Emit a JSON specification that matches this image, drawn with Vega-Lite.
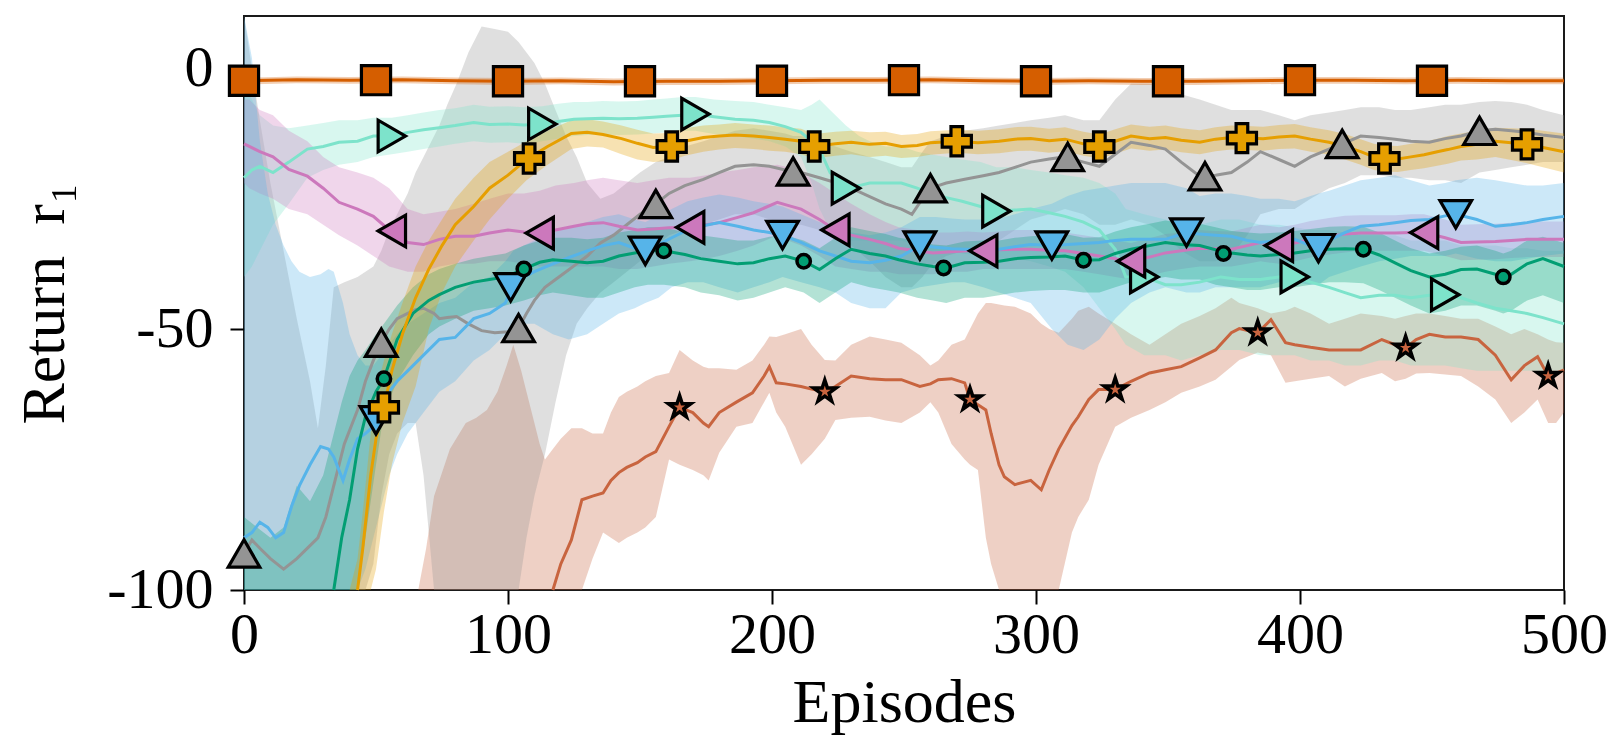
{
"$schema": "https://vega.github.io/schema/vega-lite/v6.json",
"width": 1320, "height": 574,
"autosize": {"type": "none"},
"padding": {"left": 244, "top": 16, "right": 51, "bottom": 162},
"config": {"view": {"stroke": "#1a1a1a", "strokeWidth": 2}},
"data": {"values": [
{"s":"1","ep":66,"v":null,"lo":-100,"hi":-100},{"s":"1","ep":69,"v":null,"lo":-100,"hi":-92},{"s":"1","ep":72,"v":null,"lo":-100,"hi":-82},{"s":"1","ep":74,"v":null,"lo":-100,"hi":-79},{"s":"1","ep":78,"v":null,"lo":-100,"hi":-73},{"s":"1","ep":84,"v":null,"lo":-100,"hi":-68},{"s":"1","ep":88,"v":null,"lo":-100,"hi":-67},{"s":"1","ep":92,"v":null,"lo":-100,"hi":-65.5},{"s":"1","ep":96,"v":null,"lo":-100,"hi":-62},{"s":"1","ep":99.5,"v":null,"lo":-100,"hi":-57},{"s":"1","ep":102,"v":null,"lo":-100,"hi":-53},{"s":"1","ep":105,"v":null,"lo":-100,"hi":-58},{"s":"1","ep":107,"v":null,"lo":-100,"hi":-62},{"s":"1","ep":110,"v":null,"lo":-100,"hi":-68},{"s":"1","ep":112,"v":null,"lo":-100,"hi":-72},{"s":"1","ep":114,"v":null,"lo":-100,"hi":-75},{"s":"1","ep":117,"v":-100,"lo":-100,"hi":-73},{"s":"1","ep":120,"v":-95,"lo":-100,"hi":-71},{"s":"1","ep":124,"v":-90.4,"lo":-100,"hi":-69},{"s":"1","ep":128,"v":-82.7,"lo":-100,"hi":-69},{"s":"1","ep":132,"v":-82,"lo":-94,"hi":-70},{"s":"1","ep":136,"v":-81.4,"lo":-89,"hi":-70},{"s":"1","ep":139,"v":-79,"lo":-90,"hi":-66},{"s":"1","ep":142,"v":-77.5,"lo":-91,"hi":-63},{"s":"1","ep":145,"v":-76.5,"lo":-90,"hi":-62},{"s":"1","ep":149,"v":-75.6,"lo":-89,"hi":-61},{"s":"1","ep":152,"v":-74.5,"lo":-88,"hi":-60},{"s":"1","ep":156,"v":-73.5,"lo":-86,"hi":-59},{"s":"1","ep":161,"v":-68.7,"lo":-75,"hi":-58.4},{"s":"1","ep":165,"v":-65,"lo":-76,"hi":-54},{"s":"1","ep":170,"v":-66,"lo":-77,"hi":-56},{"s":"1","ep":174,"v":-68,"lo":-78,"hi":-57.2},{"s":"1","ep":176,"v":-68.7,"lo":-79,"hi":-57.5},{"s":"1","ep":180,"v":-66,"lo":-73.7,"hi":-57.5},{"s":"1","ep":186.5,"v":-64,"lo":-68.7,"hi":-57.8},{"s":"1","ep":192.6,"v":-62.2,"lo":-68,"hi":-56},{"s":"1","ep":197,"v":-59,"lo":-64,"hi":-53},{"s":"1","ep":199,"v":-57.2,"lo":-62.2,"hi":-51.4},{"s":"1","ep":201.6,"v":-60.3,"lo":-66,"hi":-51.5},{"s":"1","ep":205,"v":-60.5,"lo":-68.7,"hi":-51},{"s":"1","ep":211,"v":-61,"lo":-76,"hi":-50},{"s":"1","ep":215,"v":-61.5,"lo":-74,"hi":-53},{"s":"1","ep":220,"v":-62,"lo":-71,"hi":-55.9},{"s":"1","ep":224,"v":-61,"lo":-67.4,"hi":-56},{"s":"1","ep":230,"v":-59,"lo":-67,"hi":-53},{"s":"1","ep":237,"v":-59.5,"lo":-66.8,"hi":-51.4},{"s":"1","ep":243,"v":-59.7,"lo":-67.5,"hi":-52},{"s":"1","ep":249,"v":-59.7,"lo":-68,"hi":-52.6},{"s":"1","ep":256,"v":-61,"lo":-66,"hi":-55},{"s":"1","ep":260,"v":-60.5,"lo":-64,"hi":-57},{"s":"1","ep":263,"v":-59.7,"lo":-66,"hi":-56},{"s":"1","ep":268,"v":-59.5,"lo":-72,"hi":-53},{"s":"1","ep":273,"v":-60.3,"lo":-75,"hi":-52},{"s":"1","ep":275,"v":-63.5,"lo":-76,"hi":-50},{"s":"1","ep":278,"v":-64.5,"lo":-77,"hi":-47},{"s":"1","ep":281,"v":-65.5,"lo":-90,"hi":-45},{"s":"1","ep":283,"v":-70,"lo":-95,"hi":-45},{"s":"1","ep":286,"v":-76,"lo":-100,"hi":-45.3},{"s":"1","ep":288,"v":-78.3,"lo":-100,"hi":-45.5},{"s":"1","ep":292,"v":-79.8,"lo":-100,"hi":-45.7},{"s":"1","ep":298,"v":-79,"lo":-100,"hi":-47},{"s":"1","ep":302,"v":-80.8,"lo":-100,"hi":-49},{"s":"1","ep":305,"v":-77,"lo":-100,"hi":-50},{"s":"1","ep":308.6,"v":-73,"lo":-100,"hi":-50.7},{"s":"1","ep":313.6,"v":-68.5,"lo":-89,"hi":-48},{"s":"1","ep":316,"v":-66.8,"lo":-86,"hi":-46.5},{"s":"1","ep":320,"v":-63.5,"lo":-82.7,"hi":-45.7},{"s":"1","ep":323.7,"v":-61.6,"lo":-76,"hi":-47},{"s":"1","ep":330,"v":-61.6,"lo":-68.7,"hi":-49},{"s":"1","ep":336,"v":-60,"lo":-67,"hi":-51},{"s":"1","ep":343,"v":-58.4,"lo":-65.5,"hi":-53},{"s":"1","ep":349,"v":-57.8,"lo":-64,"hi":-51},{"s":"1","ep":355,"v":-57.2,"lo":-62.2,"hi":-49},{"s":"1","ep":362,"v":-55.5,"lo":-61,"hi":-47.5},{"s":"1","ep":368,"v":-54,"lo":-59.7,"hi":-46},{"s":"1","ep":374,"v":-50.7,"lo":-57.2,"hi":-44},{"s":"1","ep":377,"v":-49.9,"lo":-55.9,"hi":-45},{"s":"1","ep":384,"v":-50.7,"lo":-54.5,"hi":-46},{"s":"1","ep":389,"v":-48.2,"lo":-55,"hi":-47},{"s":"1","ep":394.5,"v":-52.6,"lo":-60.3,"hi":-46.5},{"s":"1","ep":398,"v":-53,"lo":-60,"hi":-45.7},{"s":"1","ep":404,"v":-53.5,"lo":-59.5,"hi":-47},{"s":"1","ep":411,"v":-54,"lo":-59,"hi":-49},{"s":"1","ep":417,"v":-54,"lo":-61,"hi":-48},{"s":"1","ep":423,"v":-54,"lo":-59.5,"hi":-47},{"s":"1","ep":431,"v":-52,"lo":-58.4,"hi":-47.5},{"s":"1","ep":436,"v":-53,"lo":-60,"hi":-48},{"s":"1","ep":440,"v":-53.6,"lo":-59.5,"hi":-47.5},{"s":"1","ep":444,"v":-52,"lo":-58.5,"hi":-47},{"s":"1","ep":449,"v":-51,"lo":-58.4,"hi":-47},{"s":"1","ep":455,"v":-51.5,"lo":-58.7,"hi":-47.5},{"s":"1","ep":461,"v":-51.5,"lo":-59,"hi":-48},{"s":"1","ep":467.5,"v":-52,"lo":-61,"hi":-48},{"s":"1","ep":474,"v":-55,"lo":-63.5,"hi":-49.5},{"s":"1","ep":480,"v":-59.7,"lo":-68,"hi":-51},{"s":"1","ep":485,"v":-57,"lo":-66,"hi":-50},{"s":"1","ep":490,"v":-55.3,"lo":-63.5,"hi":-51},{"s":"1","ep":494,"v":-59,"lo":-68,"hi":-52},{"s":"1","ep":497,"v":-58.5,"lo":-68,"hi":-52.5},{"s":"1","ep":500,"v":-57.8,"lo":-66,"hi":-52.6},
{"s":"2","ep":0,"v":-93,"lo":-100,"hi":10},{"s":"2","ep":3,"v":-90.4,"lo":-100,"hi":0},{"s":"2","ep":6,"v":-92,"lo":-100,"hi":-10},{"s":"2","ep":10,"v":-94,"lo":-100,"hi":-22},{"s":"2","ep":15,"v":-96,"lo":-100,"hi":-35},{"s":"2","ep":20,"v":-94,"lo":-100,"hi":-48},{"s":"2","ep":25,"v":-91.5,"lo":-100,"hi":-60},{"s":"2","ep":28,"v":-90,"lo":-100,"hi":-69},{"s":"2","ep":31,"v":-86,"lo":-100,"hi":-57},{"s":"2","ep":34,"v":-80,"lo":-100,"hi":-42},{"s":"2","ep":38,"v":-72,"lo":-100,"hi":-41},{"s":"2","ep":43,"v":-65.5,"lo":-100,"hi":-40},{"s":"2","ep":46,"v":-60,"lo":-100,"hi":-39},{"s":"2","ep":49,"v":-56,"lo":-95,"hi":-38},{"s":"2","ep":52,"v":-52.6,"lo":-82,"hi":-35},{"s":"2","ep":55,"v":-50,"lo":-74,"hi":-31},{"s":"2","ep":58,"v":-48,"lo":-70,"hi":-28},{"s":"2","ep":62,"v":-47,"lo":-68,"hi":-24},{"s":"2","ep":65,"v":-46.3,"lo":-68,"hi":-20},{"s":"2","ep":68,"v":-46,"lo":-78,"hi":-17},{"s":"2","ep":72,"v":-47,"lo":-100,"hi":-13},{"s":"2","ep":74,"v":-48,"lo":-100,"hi":-11},{"s":"2","ep":77,"v":-47.8,"lo":-100,"hi":-7},{"s":"2","ep":80.5,"v":-47.6,"lo":-100,"hi":-3},{"s":"2","ep":85,"v":-49,"lo":-100,"hi":3},{"s":"2","ep":90,"v":-50.3,"lo":-100,"hi":8},{"s":"2","ep":95,"v":-50.7,"lo":-100,"hi":7.5},{"s":"2","ep":100,"v":-50.5,"lo":-100,"hi":7},{"s":"2","ep":104,"v":-49.8,"lo":-100,"hi":5},{"s":"2","ep":107,"v":-47,"lo":-90,"hi":3},{"s":"2","ep":110,"v":-44.5,"lo":-82,"hi":1},{"s":"2","ep":114,"v":-42,"lo":-74,"hi":-3},{"s":"2","ep":118,"v":-40.5,"lo":-64,"hi":-8},{"s":"2","ep":122,"v":-39,"lo":-55,"hi":-13},{"s":"2","ep":126,"v":-37.5,"lo":-49,"hi":-17},{"s":"2","ep":130,"v":-36,"lo":-46,"hi":-22},{"s":"2","ep":135,"v":-33.5,"lo":-43,"hi":-25},{"s":"2","ep":140,"v":-32,"lo":-41,"hi":-24},{"s":"2","ep":145,"v":-30,"lo":-39,"hi":-22},{"s":"2","ep":150,"v":-28,"lo":-37,"hi":-20},{"s":"2","ep":156,"v":-26,"lo":-34,"hi":-18},{"s":"2","ep":161,"v":-24,"lo":-32,"hi":-17},{"s":"2","ep":167,"v":-22.5,"lo":-31,"hi":-15},{"s":"2","ep":174,"v":-21.3,"lo":-30,"hi":-14},{"s":"2","ep":180,"v":-20,"lo":-29,"hi":-13},{"s":"2","ep":186,"v":-18.8,"lo":-28,"hi":-12},{"s":"2","ep":193,"v":-18.5,"lo":-28,"hi":-11.5},{"s":"2","ep":199,"v":-18.8,"lo":-29,"hi":-12},{"s":"2","ep":205,"v":-19.5,"lo":-29.5,"hi":-12.5},{"s":"2","ep":208,"v":-19.8,"lo":-30,"hi":-13},{"s":"2","ep":211,"v":-20,"lo":-30,"hi":-13},{"s":"2","ep":218,"v":-21,"lo":-31,"hi":-14},{"s":"2","ep":224,"v":-21.9,"lo":-32,"hi":-15},{"s":"2","ep":230,"v":-23,"lo":-34,"hi":-16},{"s":"2","ep":237,"v":-24.6,"lo":-37,"hi":-17},{"s":"2","ep":243,"v":-26,"lo":-40,"hi":-18},{"s":"2","ep":249,"v":-27,"lo":-42,"hi":-19},{"s":"2","ep":253,"v":-28,"lo":-42,"hi":-19},{"s":"2","ep":257,"v":-25,"lo":-40,"hi":-16},{"s":"2","ep":260,"v":-23,"lo":-38,"hi":-14},{"s":"2","ep":266,"v":-22,"lo":-36,"hi":-13},{"s":"2","ep":273,"v":-21.3,"lo":-35,"hi":-12},{"s":"2","ep":280,"v":-20.6,"lo":-34,"hi":-11.5},{"s":"2","ep":286,"v":-20,"lo":-33,"hi":-11},{"s":"2","ep":292,"v":-19,"lo":-31,"hi":-10.5},{"s":"2","ep":298,"v":-18,"lo":-29,"hi":-10},{"s":"2","ep":305,"v":-17.4,"lo":-28,"hi":-9.5},{"s":"2","ep":311,"v":-17,"lo":-27,"hi":-9},{"s":"2","ep":318,"v":-18,"lo":-28,"hi":-10},{"s":"2","ep":324,"v":-18.8,"lo":-30,"hi":-10},{"s":"2","ep":330,"v":-16.5,"lo":-30,"hi":-6},{"s":"2","ep":336,"v":-14.2,"lo":-29,"hi":-3},{"s":"2","ep":343,"v":-14.8,"lo":-30,"hi":-3},{"s":"2","ep":349,"v":-15.5,"lo":-32,"hi":-4},{"s":"2","ep":355,"v":-18,"lo":-35,"hi":-5},{"s":"2","ep":362,"v":-20.7,"lo":-37,"hi":-6},{"s":"2","ep":368,"v":-20.5,"lo":-37,"hi":-7},{"s":"2","ep":374,"v":-20,"lo":-36,"hi":-8},{"s":"2","ep":380,"v":-18,"lo":-32,"hi":-8},{"s":"2","ep":385,"v":-16,"lo":-28,"hi":-8},{"s":"2","ep":392,"v":-17.5,"lo":-27,"hi":-9},{"s":"2","ep":398,"v":-18.8,"lo":-27,"hi":-10},{"s":"2","ep":404,"v":-17,"lo":-25,"hi":-9},{"s":"2","ep":411,"v":-15.5,"lo":-23,"hi":-8.5},{"s":"2","ep":417,"v":-14.3,"lo":-22,"hi":-8},{"s":"2","ep":423,"v":-13,"lo":-20.5,"hi":-7.5},{"s":"2","ep":430,"v":-13.3,"lo":-20.5,"hi":-7.5},{"s":"2","ep":436,"v":-13.6,"lo":-21,"hi":-8},{"s":"2","ep":442,"v":-14,"lo":-21,"hi":-8},{"s":"2","ep":449,"v":-14.2,"lo":-21.5,"hi":-7.5},{"s":"2","ep":455,"v":-13.5,"lo":-21.5,"hi":-7},{"s":"2","ep":461,"v":-13,"lo":-22,"hi":-7},{"s":"2","ep":468,"v":-12,"lo":-20,"hi":-6.5},{"s":"2","ep":474,"v":-11.7,"lo":-19.5,"hi":-6.3},{"s":"2","ep":480,"v":-12,"lo":-19,"hi":-6.5},{"s":"2","ep":486,"v":-12.3,"lo":-18.5,"hi":-7},{"s":"2","ep":492,"v":-12.8,"lo":-18,"hi":-8},{"s":"2","ep":500,"v":-13.3,"lo":-18,"hi":-9},
{"s":"3","ep":0,"v":-21,"lo":-40,"hi":-3},{"s":"3","ep":3,"v":-19.5,"lo":-38,"hi":-6},{"s":"3","ep":6,"v":-18.8,"lo":-35,"hi":-9},{"s":"3","ep":11,"v":-20,"lo":-30,"hi":-11},{"s":"3","ep":17,"v":-18,"lo":-26,"hi":-11.5},{"s":"3","ep":24,"v":-15.5,"lo":-21,"hi":-11},{"s":"3","ep":30,"v":-15,"lo":-19.5,"hi":-10.5},{"s":"3","ep":36,"v":-14.2,"lo":-18.5,"hi":-10},{"s":"3","ep":43,"v":-14,"lo":-18,"hi":-10},{"s":"3","ep":49,"v":-13,"lo":-17,"hi":-9.5},{"s":"3","ep":56,"v":-13,"lo":-16.5,"hi":-9.5},{"s":"3","ep":62,"v":-12.3,"lo":-16,"hi":-9},{"s":"3","ep":68,"v":-11.8,"lo":-15.5,"hi":-8.5},{"s":"3","ep":74,"v":-11.4,"lo":-15,"hi":-8},{"s":"3","ep":80,"v":-11,"lo":-14.5,"hi":-7.7},{"s":"3","ep":87,"v":-10.4,"lo":-14,"hi":-7},{"s":"3","ep":93,"v":-10.8,"lo":-14.3,"hi":-7.4},{"s":"3","ep":100,"v":-10.7,"lo":-14.2,"hi":-7.3},{"s":"3","ep":106,"v":-10.9,"lo":-14.5,"hi":-7.5},{"s":"3","ep":113,"v":-10.7,"lo":-14,"hi":-7.3},{"s":"3","ep":119,"v":-10.2,"lo":-13.5,"hi":-6.8},{"s":"3","ep":125,"v":-9.8,"lo":-13,"hi":-6.5},{"s":"3","ep":130,"v":-9.7,"lo":-12.8,"hi":-6.5},{"s":"3","ep":136,"v":-9.6,"lo":-12.7,"hi":-6.3},{"s":"3","ep":142,"v":-9.7,"lo":-12.8,"hi":-6.4},{"s":"3","ep":149,"v":-9.6,"lo":-12.7,"hi":-6.3},{"s":"3","ep":155,"v":-9.4,"lo":-12.5,"hi":-6},{"s":"3","ep":160,"v":-9.2,"lo":-12.3,"hi":-5.8},{"s":"3","ep":166,"v":-9,"lo":-12,"hi":-5.5},{"s":"3","ep":171,"v":-8.8,"lo":-12,"hi":-5.5},{"s":"3","ep":178,"v":-9.3,"lo":-12.6,"hi":-6},{"s":"3","ep":186,"v":-9.8,"lo":-13,"hi":-6.3},{"s":"3","ep":193,"v":-10,"lo":-13.5,"hi":-6.5},{"s":"3","ep":199,"v":-10.4,"lo":-14,"hi":-7},{"s":"3","ep":205,"v":-11.2,"lo":-15,"hi":-7.5},{"s":"3","ep":211,"v":-12.3,"lo":-17,"hi":-8},{"s":"3","ep":215,"v":-14,"lo":-22,"hi":-7},{"s":"3","ep":218,"v":-15.5,"lo":-27,"hi":-6},{"s":"3","ep":222,"v":-20,"lo":-31,"hi":-8},{"s":"3","ep":228,"v":-23,"lo":-33,"hi":-11},{"s":"3","ep":233,"v":-22.5,"lo":-33,"hi":-13},{"s":"3","ep":237,"v":-22,"lo":-33,"hi":-14},{"s":"3","ep":243,"v":-22,"lo":-33,"hi":-15},{"s":"3","ep":249,"v":-22,"lo":-33,"hi":-15},{"s":"3","ep":255,"v":-23,"lo":-34,"hi":-16},{"s":"3","ep":260,"v":-24,"lo":-35,"hi":-16.5},{"s":"3","ep":266,"v":-24.8,"lo":-35,"hi":-17},{"s":"3","ep":272,"v":-25.5,"lo":-35.5,"hi":-17.5},{"s":"3","ep":279,"v":-26.5,"lo":-36,"hi":-18},{"s":"3","ep":285,"v":-27.4,"lo":-36.5,"hi":-19},{"s":"3","ep":292,"v":-27.2,"lo":-36.5,"hi":-19},{"s":"3","ep":298,"v":-27,"lo":-37,"hi":-19.5},{"s":"3","ep":305,"v":-27.7,"lo":-38,"hi":-20},{"s":"3","ep":311,"v":-28.4,"lo":-39,"hi":-20.5},{"s":"3","ep":318,"v":-29.5,"lo":-42,"hi":-21},{"s":"3","ep":324,"v":-31,"lo":-46,"hi":-22},{"s":"3","ep":330,"v":-34.7,"lo":-50,"hi":-24},{"s":"3","ep":334,"v":-40,"lo":-53,"hi":-27},{"s":"3","ep":341,"v":-40,"lo":-55,"hi":-28},{"s":"3","ep":349,"v":-41.5,"lo":-55,"hi":-29},{"s":"3","ep":355,"v":-41.5,"lo":-56,"hi":-30},{"s":"3","ep":362,"v":-41,"lo":-55,"hi":-30},{"s":"3","ep":370,"v":-40,"lo":-54,"hi":-29},{"s":"3","ep":377,"v":-40.5,"lo":-54,"hi":-29},{"s":"3","ep":385,"v":-40.5,"lo":-55,"hi":-30},{"s":"3","ep":392,"v":-40,"lo":-55,"hi":-30},{"s":"3","ep":398,"v":-40,"lo":-55,"hi":-30.5},{"s":"3","ep":404,"v":-41,"lo":-56,"hi":-31},{"s":"3","ep":411,"v":-42,"lo":-56,"hi":-31},{"s":"3","ep":417,"v":-43,"lo":-57,"hi":-31.5},{"s":"3","ep":423,"v":-44,"lo":-57,"hi":-32},{"s":"3","ep":430,"v":-43.5,"lo":-56,"hi":-32},{"s":"3","ep":436,"v":-43.5,"lo":-56,"hi":-32},{"s":"3","ep":442,"v":-44,"lo":-57,"hi":-33},{"s":"3","ep":449,"v":-43.5,"lo":-57,"hi":-33},{"s":"3","ep":455,"v":-43.4,"lo":-57,"hi":-33},{"s":"3","ep":461,"v":-44,"lo":-57.5,"hi":-34},{"s":"3","ep":467,"v":-45,"lo":-58,"hi":-34},{"s":"3","ep":474,"v":-46,"lo":-58,"hi":-34},{"s":"3","ep":480,"v":-46.5,"lo":-58,"hi":-34.5},{"s":"3","ep":486,"v":-47,"lo":-58,"hi":-34.5},{"s":"3","ep":492,"v":-47.8,"lo":-58,"hi":-35},{"s":"3","ep":500,"v":-49,"lo":-58,"hi":-35},
{"s":"4","ep":0,"v":-14.5,"lo":-22,"hi":-6},{"s":"4","ep":2,"v":-15,"lo":-23,"hi":-6},{"s":"4","ep":6,"v":-16,"lo":-24,"hi":-8},{"s":"4","ep":11,"v":-17,"lo":-25,"hi":-9},{"s":"4","ep":17,"v":-19.4,"lo":-27,"hi":-12},{"s":"4","ep":24,"v":-20.7,"lo":-28,"hi":-14},{"s":"4","ep":30,"v":-23,"lo":-30,"hi":-17},{"s":"4","ep":36,"v":-25.7,"lo":-32,"hi":-19},{"s":"4","ep":43,"v":-27,"lo":-34,"hi":-20},{"s":"4","ep":49,"v":-28.4,"lo":-36,"hi":-21},{"s":"4","ep":55,"v":-31,"lo":-38,"hi":-23},{"s":"4","ep":62,"v":-33.4,"lo":-39,"hi":-27},{"s":"4","ep":68,"v":-33.8,"lo":-39,"hi":-28},{"s":"4","ep":74,"v":-32.8,"lo":-38,"hi":-27.5},{"s":"4","ep":80,"v":-32.2,"lo":-37.5,"hi":-27},{"s":"4","ep":87,"v":-32.2,"lo":-37.5,"hi":-26},{"s":"4","ep":93,"v":-31.6,"lo":-37,"hi":-25},{"s":"4","ep":100,"v":-31,"lo":-37,"hi":-24},{"s":"4","ep":106,"v":-31.4,"lo":-37.5,"hi":-24},{"s":"4","ep":112,"v":-31.6,"lo":-38,"hi":-23.5},{"s":"4","ep":118,"v":-31,"lo":-38,"hi":-22.5},{"s":"4","ep":125,"v":-30.3,"lo":-38,"hi":-22},{"s":"4","ep":130,"v":-29.8,"lo":-38,"hi":-21.5},{"s":"4","ep":136,"v":-29.6,"lo":-38,"hi":-21},{"s":"4","ep":142,"v":-30.3,"lo":-38.5,"hi":-21.5},{"s":"4","ep":149,"v":-31,"lo":-38.5,"hi":-22},{"s":"4","ep":155,"v":-30.8,"lo":-38,"hi":-21.5},{"s":"4","ep":161,"v":-30.6,"lo":-37.5,"hi":-21},{"s":"4","ep":169,"v":-30.5,"lo":-37,"hi":-21},{"s":"4","ep":175,"v":-30,"lo":-36.5,"hi":-20.5},{"s":"4","ep":180,"v":-29.6,"lo":-36,"hi":-20},{"s":"4","ep":187,"v":-28.6,"lo":-35,"hi":-19.5},{"s":"4","ep":193,"v":-27.7,"lo":-34,"hi":-19},{"s":"4","ep":202,"v":-25.7,"lo":-32,"hi":-18.5},{"s":"4","ep":206,"v":-26.3,"lo":-33,"hi":-19},{"s":"4","ep":211,"v":-27,"lo":-34,"hi":-20},{"s":"4","ep":218,"v":-29,"lo":-36,"hi":-22},{"s":"4","ep":224,"v":-31,"lo":-38,"hi":-24},{"s":"4","ep":230,"v":-32,"lo":-38.5,"hi":-26},{"s":"4","ep":237,"v":-32.8,"lo":-39,"hi":-28},{"s":"4","ep":243,"v":-33.6,"lo":-39,"hi":-29.5},{"s":"4","ep":248,"v":-34.5,"lo":-39.5,"hi":-30.5},{"s":"4","ep":255,"v":-35,"lo":-39.5,"hi":-31},{"s":"4","ep":261,"v":-35.4,"lo":-39.5,"hi":-31.5},{"s":"4","ep":268,"v":-35.2,"lo":-39,"hi":-31.5},{"s":"4","ep":274,"v":-35,"lo":-39,"hi":-31.3},{"s":"4","ep":280,"v":-35,"lo":-38.5,"hi":-31.5},{"s":"4","ep":286,"v":-34.8,"lo":-38.5,"hi":-31.3},{"s":"4","ep":292,"v":-34.7,"lo":-38.5,"hi":-31},{"s":"4","ep":298,"v":-34.7,"lo":-38.5,"hi":-31},{"s":"4","ep":305,"v":-34.9,"lo":-38.5,"hi":-31.3},{"s":"4","ep":311,"v":-35,"lo":-38.5,"hi":-31.5},{"s":"4","ep":318,"v":-35.5,"lo":-39,"hi":-32},{"s":"4","ep":324,"v":-36,"lo":-39.5,"hi":-32.5},{"s":"4","ep":330,"v":-36.5,"lo":-40,"hi":-33},{"s":"4","ep":336,"v":-37,"lo":-40.5,"hi":-33.5},{"s":"4","ep":343,"v":-36.2,"lo":-39.8,"hi":-32.6},{"s":"4","ep":349,"v":-35.4,"lo":-39,"hi":-31.8},{"s":"4","ep":355,"v":-35,"lo":-38.5,"hi":-31.5},{"s":"4","ep":362,"v":-34.5,"lo":-38,"hi":-31},{"s":"4","ep":368,"v":-34.6,"lo":-38,"hi":-31.2},{"s":"4","ep":374,"v":-34.7,"lo":-38,"hi":-31.3},{"s":"4","ep":380,"v":-34,"lo":-37.5,"hi":-30.6},{"s":"4","ep":385,"v":-33.4,"lo":-37,"hi":-30},{"s":"4","ep":392,"v":-34,"lo":-37.5,"hi":-30.5},{"s":"4","ep":398,"v":-33.5,"lo":-37,"hi":-30},{"s":"4","ep":404,"v":-32.8,"lo":-36.3,"hi":-29.3},{"s":"4","ep":411,"v":-32.2,"lo":-35.7,"hi":-28.7},{"s":"4","ep":417,"v":-31.8,"lo":-35.3,"hi":-28.3},{"s":"4","ep":423,"v":-31.6,"lo":-35,"hi":-28.2},{"s":"4","ep":430,"v":-31.6,"lo":-35,"hi":-28.2},{"s":"4","ep":436,"v":-31.6,"lo":-35,"hi":-28.2},{"s":"4","ep":442,"v":-31.5,"lo":-35,"hi":-28},{"s":"4","ep":447,"v":-31.5,"lo":-35,"hi":-28},{"s":"4","ep":455,"v":-32.5,"lo":-36,"hi":-29},{"s":"4","ep":461,"v":-33.4,"lo":-36.8,"hi":-30},{"s":"4","ep":467,"v":-33.3,"lo":-36.7,"hi":-29.9},{"s":"4","ep":474,"v":-33.2,"lo":-36.6,"hi":-29.8},{"s":"4","ep":480,"v":-33,"lo":-36.4,"hi":-29.6},{"s":"4","ep":486,"v":-32.8,"lo":-36.2,"hi":-29.4},{"s":"4","ep":492,"v":-32.8,"lo":-36.2,"hi":-29.4},{"s":"4","ep":500,"v":-32.8,"lo":-36.2,"hi":-29.4},
{"s":"5","ep":0,"v":-90,"lo":-100,"hi":10},{"s":"5","ep":3,"v":-89,"lo":-100,"hi":2},{"s":"5","ep":6,"v":-87,"lo":-100,"hi":-14},{"s":"5","ep":9,"v":-88,"lo":-100,"hi":-24},{"s":"5","ep":12,"v":-90,"lo":-100,"hi":-30},{"s":"5","ep":15,"v":-89,"lo":-100,"hi":-34},{"s":"5","ep":18,"v":-84,"lo":-100,"hi":-37},{"s":"5","ep":21,"v":-80,"lo":-100,"hi":-39},{"s":"5","ep":25,"v":-76,"lo":-100,"hi":-40},{"s":"5","ep":29,"v":-72.5,"lo":-100,"hi":-39.5},{"s":"5","ep":32,"v":-73,"lo":-100,"hi":-38.5},{"s":"5","ep":34,"v":-74.5,"lo":-100,"hi":-39},{"s":"5","ep":37.5,"v":-79,"lo":-100,"hi":-45},{"s":"5","ep":40,"v":-75,"lo":-100,"hi":-51},{"s":"5","ep":43,"v":-71,"lo":-100,"hi":-55},{"s":"5","ep":46,"v":-70,"lo":-96,"hi":-57},{"s":"5","ep":49,"v":-68.7,"lo":-90,"hi":-57},{"s":"5","ep":52,"v":-65,"lo":-84,"hi":-55},{"s":"5","ep":55,"v":-62,"lo":-78,"hi":-53},{"s":"5","ep":58,"v":-60,"lo":-74,"hi":-51},{"s":"5","ep":62,"v":-58,"lo":-70,"hi":-49},{"s":"5","ep":68,"v":-55,"lo":-66,"hi":-47},{"s":"5","ep":74,"v":-52,"lo":-62,"hi":-45},{"s":"5","ep":80,"v":-51.6,"lo":-60,"hi":-44},{"s":"5","ep":87,"v":-48,"lo":-56,"hi":-41},{"s":"5","ep":93,"v":-47,"lo":-54,"hi":-40},{"s":"5","ep":99,"v":-45,"lo":-51,"hi":-37},{"s":"5","ep":102,"v":-41.5,"lo":-50,"hi":-35},{"s":"5","ep":106,"v":-40,"lo":-49,"hi":-34},{"s":"5","ep":110,"v":-39,"lo":-49,"hi":-33},{"s":"5","ep":117,"v":-37.5,"lo":-51,"hi":-31.5},{"s":"5","ep":123,"v":-36.3,"lo":-52,"hi":-30.5},{"s":"5","ep":130,"v":-35,"lo":-51,"hi":-29.5},{"s":"5","ep":136,"v":-34,"lo":-49,"hi":-28.5},{"s":"5","ep":142,"v":-33.4,"lo":-47,"hi":-28},{"s":"5","ep":148,"v":-34.5,"lo":-46,"hi":-29},{"s":"5","ep":152,"v":-35,"lo":-45,"hi":-29.5},{"s":"5","ep":157,"v":-33.8,"lo":-44,"hi":-28.3},{"s":"5","ep":162,"v":-32.5,"lo":-42,"hi":-27},{"s":"5","ep":168,"v":-31,"lo":-41,"hi":-25.5},{"s":"5","ep":174,"v":-30.2,"lo":-41,"hi":-24.8},{"s":"5","ep":180,"v":-29.6,"lo":-42,"hi":-24.2},{"s":"5","ep":187,"v":-30.3,"lo":-43,"hi":-24.8},{"s":"5","ep":193,"v":-31,"lo":-42,"hi":-25.5},{"s":"5","ep":199,"v":-31.5,"lo":-41,"hi":-26},{"s":"5","ep":204,"v":-32,"lo":-40,"hi":-26.5},{"s":"5","ep":211,"v":-33.4,"lo":-41,"hi":-28},{"s":"5","ep":218,"v":-35,"lo":-42,"hi":-29.5},{"s":"5","ep":224,"v":-36,"lo":-43,"hi":-30.5},{"s":"5","ep":230,"v":-37,"lo":-45,"hi":-31.5},{"s":"5","ep":237,"v":-37.3,"lo":-46,"hi":-32},{"s":"5","ep":243,"v":-36.8,"lo":-46,"hi":-31.5},{"s":"5","ep":249,"v":-36,"lo":-43,"hi":-30.5},{"s":"5","ep":256,"v":-34,"lo":-42,"hi":-28.5},{"s":"5","ep":262,"v":-34.3,"lo":-41.5,"hi":-28.5},{"s":"5","ep":268,"v":-34.6,"lo":-41,"hi":-28.8},{"s":"5","ep":273,"v":-34.7,"lo":-41,"hi":-29},{"s":"5","ep":280,"v":-34.8,"lo":-42,"hi":-29},{"s":"5","ep":286,"v":-34.7,"lo":-43,"hi":-28.8},{"s":"5","ep":292,"v":-34.2,"lo":-44,"hi":-28},{"s":"5","ep":298,"v":-33.8,"lo":-45,"hi":-27},{"s":"5","ep":306,"v":-34,"lo":-50,"hi":-26},{"s":"5","ep":312,"v":-33.8,"lo":-53,"hi":-24.5},{"s":"5","ep":318,"v":-33.6,"lo":-54,"hi":-23.5},{"s":"5","ep":324,"v":-33.4,"lo":-52,"hi":-23},{"s":"5","ep":330,"v":-33,"lo":-48,"hi":-22.5},{"s":"5","ep":336,"v":-32.8,"lo":-45,"hi":-22},{"s":"5","ep":343,"v":-32.8,"lo":-43,"hi":-22},{"s":"5","ep":349,"v":-32.8,"lo":-42,"hi":-22},{"s":"5","ep":357,"v":-31.5,"lo":-43,"hi":-23},{"s":"5","ep":362,"v":-31.8,"lo":-43,"hi":-24.5},{"s":"5","ep":368,"v":-32,"lo":-42,"hi":-24},{"s":"5","ep":374,"v":-32.2,"lo":-42,"hi":-24},{"s":"5","ep":380,"v":-33,"lo":-42,"hi":-24.5},{"s":"5","ep":385,"v":-33.4,"lo":-42,"hi":-25},{"s":"5","ep":392,"v":-33,"lo":-41,"hi":-25},{"s":"5","ep":398,"v":-32.8,"lo":-41,"hi":-25.5},{"s":"5","ep":404,"v":-34,"lo":-41.5,"hi":-24.5},{"s":"5","ep":407,"v":-34.5,"lo":-41.5,"hi":-24},{"s":"5","ep":411,"v":-33,"lo":-40,"hi":-23.5},{"s":"5","ep":417,"v":-31.5,"lo":-39,"hi":-22.5},{"s":"5","ep":423,"v":-30.3,"lo":-38,"hi":-21.5},{"s":"5","ep":430,"v":-30,"lo":-37,"hi":-21},{"s":"5","ep":436,"v":-29.6,"lo":-36.5,"hi":-20.5},{"s":"5","ep":442,"v":-29.2,"lo":-36,"hi":-21.5},{"s":"5","ep":449,"v":-29,"lo":-36,"hi":-22.5},{"s":"5","ep":455,"v":-28.3,"lo":-36,"hi":-22},{"s":"5","ep":459,"v":-28,"lo":-35.5,"hi":-21.5},{"s":"5","ep":467,"v":-29,"lo":-36.5,"hi":-21},{"s":"5","ep":474,"v":-30.3,"lo":-37,"hi":-21.5},{"s":"5","ep":480,"v":-30,"lo":-37,"hi":-22},{"s":"5","ep":486,"v":-29.6,"lo":-36.5,"hi":-22.5},{"s":"5","ep":492,"v":-29,"lo":-36,"hi":-22.5},{"s":"5","ep":500,"v":-28.4,"lo":-35.5,"hi":-22},
{"s":"6","ep":0,"v":null,"lo":-100,"hi":-86},{"s":"6","ep":5,"v":null,"lo":-100,"hi":-88},{"s":"6","ep":10,"v":null,"lo":-100,"hi":-90},{"s":"6","ep":15,"v":null,"lo":-100,"hi":-88},{"s":"6","ep":20,"v":null,"lo":-100,"hi":-80},{"s":"6","ep":25,"v":null,"lo":-100,"hi":-83},{"s":"6","ep":30,"v":null,"lo":-100,"hi":-78},{"s":"6","ep":34,"v":-100,"lo":-100,"hi":-70},{"s":"6","ep":37,"v":-90,"lo":-100,"hi":-64},{"s":"6","ep":40,"v":-82.7,"lo":-100,"hi":-59},{"s":"6","ep":43,"v":-73,"lo":-100,"hi":-56},{"s":"6","ep":46,"v":-66.8,"lo":-90,"hi":-54},{"s":"6","ep":50,"v":-62,"lo":-76,"hi":-51},{"s":"6","ep":53,"v":-59.5,"lo":-66,"hi":-49},{"s":"6","ep":58,"v":-52,"lo":-60,"hi":-45.5},{"s":"6","ep":64,"v":-47,"lo":-55,"hi":-42},{"s":"6","ep":70,"v":-44.5,"lo":-51,"hi":-39.5},{"s":"6","ep":74,"v":-43.4,"lo":-49.5,"hi":-38.5},{"s":"6","ep":80,"v":-42,"lo":-48,"hi":-37.5},{"s":"6","ep":87,"v":-41,"lo":-46.5,"hi":-36.5},{"s":"6","ep":93,"v":-40.5,"lo":-46,"hi":-36},{"s":"6","ep":99,"v":-40,"lo":-45.5,"hi":-35.5},{"s":"6","ep":106,"v":-38.5,"lo":-44.5,"hi":-34},{"s":"6","ep":112,"v":-37.2,"lo":-43.5,"hi":-33},{"s":"6","ep":117,"v":-36.7,"lo":-43,"hi":-32.5},{"s":"6","ep":124,"v":-37,"lo":-43.5,"hi":-32.5},{"s":"6","ep":130,"v":-37.3,"lo":-44,"hi":-32.8},{"s":"6","ep":136,"v":-37,"lo":-44,"hi":-32.5},{"s":"6","ep":142,"v":-36,"lo":-43,"hi":-31.5},{"s":"6","ep":148,"v":-35.4,"lo":-42,"hi":-31},{"s":"6","ep":153,"v":-35,"lo":-41.5,"hi":-30.5},{"s":"6","ep":159,"v":-35,"lo":-41.5,"hi":-30.5},{"s":"6","ep":167,"v":-35.7,"lo":-42,"hi":-31.5},{"s":"6","ep":173,"v":-36.5,"lo":-43,"hi":-32},{"s":"6","ep":180,"v":-37,"lo":-43.5,"hi":-32.5},{"s":"6","ep":187,"v":-37.5,"lo":-44.5,"hi":-33},{"s":"6","ep":193,"v":-37.3,"lo":-44,"hi":-33},{"s":"6","ep":199,"v":-36.5,"lo":-43,"hi":-32.3},{"s":"6","ep":205,"v":-36,"lo":-42,"hi":-32},{"s":"6","ep":212,"v":-37,"lo":-43,"hi":-33},{"s":"6","ep":218,"v":-38.6,"lo":-45,"hi":-34.5},{"s":"6","ep":224,"v":-36.5,"lo":-43,"hi":-32.5},{"s":"6","ep":230,"v":-34.7,"lo":-41,"hi":-30.5},{"s":"6","ep":237,"v":-35.5,"lo":-42,"hi":-31.2},{"s":"6","ep":243,"v":-36,"lo":-42.5,"hi":-31.8},{"s":"6","ep":248,"v":-36.7,"lo":-43,"hi":-32.5},{"s":"6","ep":255,"v":-37.5,"lo":-44,"hi":-33},{"s":"6","ep":261,"v":-38,"lo":-44.5,"hi":-33.8},{"s":"6","ep":266,"v":-38.3,"lo":-45,"hi":-34},{"s":"6","ep":273,"v":-37.3,"lo":-44,"hi":-33.2},{"s":"6","ep":280,"v":-37.2,"lo":-44,"hi":-33},{"s":"6","ep":286,"v":-37,"lo":-43.5,"hi":-33},{"s":"6","ep":292,"v":-36.5,"lo":-43,"hi":-32.5},{"s":"6","ep":298,"v":-36.3,"lo":-42.7,"hi":-32.2},{"s":"6","ep":305,"v":-36.2,"lo":-42.5,"hi":-32},{"s":"6","ep":311,"v":-36,"lo":-42.5,"hi":-31.8},{"s":"6","ep":318,"v":-36.8,"lo":-43,"hi":-32.5},{"s":"6","ep":324,"v":-36.7,"lo":-43,"hi":-32.4},{"s":"6","ep":330,"v":-35.5,"lo":-42,"hi":-31.3},{"s":"6","ep":336,"v":-34.7,"lo":-41,"hi":-30.5},{"s":"6","ep":343,"v":-34,"lo":-40.5,"hi":-29.8},{"s":"6","ep":349,"v":-33.4,"lo":-40,"hi":-29.2},{"s":"6","ep":355,"v":-33.8,"lo":-40.5,"hi":-29.6},{"s":"6","ep":362,"v":-34,"lo":-40.5,"hi":-29.8},{"s":"6","ep":368,"v":-34.8,"lo":-41.5,"hi":-30.5},{"s":"6","ep":374,"v":-35.4,"lo":-42,"hi":-31.2},{"s":"6","ep":380,"v":-35.8,"lo":-42.5,"hi":-31.5},{"s":"6","ep":385,"v":-36,"lo":-42.5,"hi":-31.7},{"s":"6","ep":392,"v":-35.7,"lo":-42,"hi":-31.5},{"s":"6","ep":398,"v":-35.4,"lo":-42,"hi":-31.2},{"s":"6","ep":404,"v":-35,"lo":-41.5,"hi":-30.8},{"s":"6","ep":411,"v":-34.7,"lo":-41,"hi":-30.4},{"s":"6","ep":417,"v":-34.6,"lo":-41,"hi":-30.3},{"s":"6","ep":424,"v":-34.7,"lo":-41.2,"hi":-30.4},{"s":"6","ep":430,"v":-35.8,"lo":-42.5,"hi":-31.5},{"s":"6","ep":436,"v":-37.3,"lo":-44,"hi":-33},{"s":"6","ep":442,"v":-38.8,"lo":-45.5,"hi":-34.5},{"s":"6","ep":449,"v":-40,"lo":-47,"hi":-35.5},{"s":"6","ep":455,"v":-39.5,"lo":-46.5,"hi":-35},{"s":"6","ep":461,"v":-38.6,"lo":-45.5,"hi":-34.2},{"s":"6","ep":467,"v":-38.5,"lo":-45.5,"hi":-34},{"s":"6","ep":474,"v":-39.5,"lo":-46.5,"hi":-35},{"s":"6","ep":477,"v":-40,"lo":-47,"hi":-35.5},{"s":"6","ep":480,"v":-39.5,"lo":-46.5,"hi":-35},{"s":"6","ep":486,"v":-37.5,"lo":-44.5,"hi":-33},{"s":"6","ep":492,"v":-36.5,"lo":-43.5,"hi":-32.3},{"s":"6","ep":500,"v":-38,"lo":-45,"hi":-33.5},
{"s":"7","ep":40,"v":null,"lo":-100,"hi":-100},{"s":"7","ep":43,"v":-100,"lo":-100,"hi":-94},{"s":"7","ep":45,"v":-92,"lo":-100,"hi":-85},{"s":"7","ep":48,"v":-78,"lo":-100,"hi":-70},{"s":"7","ep":50,"v":-71,"lo":-96,"hi":-62},{"s":"7","ep":53,"v":-65,"lo":-85,"hi":-56},{"s":"7","ep":56,"v":-58,"lo":-76,"hi":-51},{"s":"7","ep":60,"v":-51,"lo":-68,"hi":-45},{"s":"7","ep":65,"v":-44,"lo":-61,"hi":-38},{"s":"7","ep":70,"v":-38.5,"lo":-50,"hi":-33},{"s":"7","ep":75,"v":-34,"lo":-43,"hi":-29},{"s":"7","ep":80,"v":-30,"lo":-38,"hi":-25},{"s":"7","ep":87,"v":-26.5,"lo":-33,"hi":-21},{"s":"7","ep":93,"v":-23,"lo":-29,"hi":-18},{"s":"7","ep":100,"v":-20.5,"lo":-25,"hi":-16},{"s":"7","ep":107,"v":-17.5,"lo":-21.5,"hi":-14},{"s":"7","ep":115,"v":-15,"lo":-18.5,"hi":-12},{"s":"7","ep":124,"v":-12.5,"lo":-15.5,"hi":-10},{"s":"7","ep":130,"v":-12.3,"lo":-15,"hi":-9.8},{"s":"7","ep":136,"v":-12.7,"lo":-15.2,"hi":-10.2},{"s":"7","ep":143,"v":-13.5,"lo":-16.5,"hi":-11},{"s":"7","ep":149,"v":-14.4,"lo":-17.5,"hi":-11.8},{"s":"7","ep":155,"v":-15.2,"lo":-18,"hi":-12.5},{"s":"7","ep":161,"v":-15,"lo":-17.8,"hi":-12.4},{"s":"7","ep":167,"v":-14,"lo":-16.8,"hi":-11.5},{"s":"7","ep":174,"v":-13.3,"lo":-16,"hi":-11},{"s":"7","ep":180,"v":-13,"lo":-15.6,"hi":-10.8},{"s":"7","ep":186,"v":-12.8,"lo":-15.3,"hi":-10.5},{"s":"7","ep":193,"v":-13,"lo":-15.5,"hi":-10.8},{"s":"7","ep":199,"v":-13.3,"lo":-15.8,"hi":-11},{"s":"7","ep":205,"v":-13.6,"lo":-16,"hi":-11.3},{"s":"7","ep":211,"v":-14,"lo":-16.5,"hi":-11.6},{"s":"7","ep":216,"v":-15,"lo":-17.3,"hi":-12.6},{"s":"7","ep":224,"v":-14.5,"lo":-16.8,"hi":-12.2},{"s":"7","ep":230,"v":-14.2,"lo":-16.5,"hi":-12},{"s":"7","ep":237,"v":-14.6,"lo":-17,"hi":-12.3},{"s":"7","ep":243,"v":-14.4,"lo":-16.8,"hi":-12.2},{"s":"7","ep":249,"v":-15,"lo":-17.2,"hi":-12.8},{"s":"7","ep":255,"v":-14.8,"lo":-17,"hi":-12.6},{"s":"7","ep":260,"v":-14.3,"lo":-16.6,"hi":-12.1},{"s":"7","ep":270,"v":-14,"lo":-16.2,"hi":-11.8},{"s":"7","ep":278,"v":-14.3,"lo":-16.5,"hi":-12},{"s":"7","ep":286,"v":-14,"lo":-16.3,"hi":-11.7},{"s":"7","ep":292,"v":-13.6,"lo":-15.9,"hi":-11.3},{"s":"7","ep":298,"v":-13.5,"lo":-15.8,"hi":-11.2},{"s":"7","ep":305,"v":-13.9,"lo":-16.2,"hi":-11.6},{"s":"7","ep":311,"v":-13.6,"lo":-15.9,"hi":-11.3},{"s":"7","ep":318,"v":-14.5,"lo":-16.8,"hi":-12.2},{"s":"7","ep":324,"v":-15,"lo":-17.3,"hi":-12.7},{"s":"7","ep":330,"v":-14,"lo":-16.4,"hi":-11.7},{"s":"7","ep":336,"v":-13,"lo":-15.4,"hi":-10.8},{"s":"7","ep":343,"v":-13.5,"lo":-15.8,"hi":-11.2},{"s":"7","ep":349,"v":-13.3,"lo":-15.6,"hi":-11},{"s":"7","ep":355,"v":-13.8,"lo":-16.1,"hi":-11.5},{"s":"7","ep":362,"v":-14.2,"lo":-16.5,"hi":-11.9},{"s":"7","ep":368,"v":-13.6,"lo":-15.9,"hi":-11.3},{"s":"7","ep":374,"v":-13.3,"lo":-15.6,"hi":-11},{"s":"7","ep":380,"v":-13.4,"lo":-15.7,"hi":-11.1},{"s":"7","ep":386,"v":-13.5,"lo":-15.8,"hi":-11.2},{"s":"7","ep":392,"v":-13.2,"lo":-15.5,"hi":-10.9},{"s":"7","ep":398,"v":-13,"lo":-15.4,"hi":-10.7},{"s":"7","ep":404,"v":-13.6,"lo":-16,"hi":-11.3},{"s":"7","ep":411,"v":-14.2,"lo":-16.6,"hi":-11.9},{"s":"7","ep":417,"v":-15,"lo":-17.5,"hi":-12.6},{"s":"7","ep":423,"v":-16,"lo":-18.5,"hi":-13.6},{"s":"7","ep":428,"v":-17,"lo":-19.5,"hi":-14.5},{"s":"7","ep":432,"v":-17.3,"lo":-19.8,"hi":-14.8},{"s":"7","ep":437,"v":-17.4,"lo":-19.9,"hi":-14.9},{"s":"7","ep":442,"v":-17,"lo":-19.5,"hi":-14.5},{"s":"7","ep":447,"v":-16.6,"lo":-19.2,"hi":-14.1},{"s":"7","ep":452,"v":-16,"lo":-18.7,"hi":-13.5},{"s":"7","ep":456,"v":-15.6,"lo":-18.3,"hi":-13},{"s":"7","ep":461,"v":-15,"lo":-17.7,"hi":-12.5},{"s":"7","ep":467,"v":-14.6,"lo":-17.5,"hi":-12},{"s":"7","ep":474,"v":-14,"lo":-17,"hi":-11.4},{"s":"7","ep":480,"v":-14.3,"lo":-17.6,"hi":-11.5},{"s":"7","ep":486,"v":-14.6,"lo":-18.2,"hi":-11.6},{"s":"7","ep":492,"v":-15.2,"lo":-19,"hi":-12},{"s":"7","ep":500,"v":-16,"lo":-20,"hi":-12.5},
{"s":"8","ep":0,"v":-2.4,"lo":-3.1,"hi":-1.8},{"s":"8","ep":20,"v":-2.2,"lo":-2.9,"hi":-1.6},{"s":"8","ep":40,"v":-2.3,"lo":-3,"hi":-1.7},{"s":"8","ep":60,"v":-2.2,"lo":-2.9,"hi":-1.6},{"s":"8","ep":80,"v":-2.4,"lo":-3.1,"hi":-1.8},{"s":"8","ep":100,"v":-2.5,"lo":-3.2,"hi":-1.9},{"s":"8","ep":120,"v":-2.4,"lo":-3.1,"hi":-1.8},{"s":"8","ep":140,"v":-2.6,"lo":-3.3,"hi":-2},{"s":"8","ep":160,"v":-2.5,"lo":-3.2,"hi":-1.9},{"s":"8","ep":180,"v":-2.5,"lo":-3.2,"hi":-1.9},{"s":"8","ep":200,"v":-2.4,"lo":-3.1,"hi":-1.8},{"s":"8","ep":220,"v":-2.3,"lo":-3,"hi":-1.7},{"s":"8","ep":240,"v":-2.3,"lo":-3,"hi":-1.7},{"s":"8","ep":260,"v":-2.2,"lo":-2.9,"hi":-1.6},{"s":"8","ep":280,"v":-2.4,"lo":-3.1,"hi":-1.8},{"s":"8","ep":300,"v":-2.5,"lo":-3.2,"hi":-1.9},{"s":"8","ep":320,"v":-2.4,"lo":-3.1,"hi":-1.8},{"s":"8","ep":340,"v":-2.5,"lo":-3.2,"hi":-1.9},{"s":"8","ep":360,"v":-2.5,"lo":-3.2,"hi":-1.9},{"s":"8","ep":380,"v":-2.4,"lo":-3.1,"hi":-1.8},{"s":"8","ep":400,"v":-2.3,"lo":-3,"hi":-1.7},{"s":"8","ep":420,"v":-2.3,"lo":-3,"hi":-1.7},{"s":"8","ep":440,"v":-2.4,"lo":-3.1,"hi":-1.8},{"s":"8","ep":460,"v":-2.3,"lo":-3,"hi":-1.7},{"s":"8","ep":480,"v":-2.4,"lo":-3.1,"hi":-1.8},{"s":"8","ep":500,"v":-2.4,"lo":-3.1,"hi":-1.8}
]},
"layer": [
{"transform": [{"filter": {"field": "s", "equal": "1"}}], "mark": {"type": "area", "opacity": 0.3, "color": "#c8643f"},
 "encoding": {
  "x": {"field": "ep", "type": "quantitative", "scale": {"domain": [0, 500]},
   "axis": {"values": [0,100,200,300,400,500], "title": "Episodes", "grid": false, "domain": false, "tickColor": "black", "tickWidth": 2, "tickSize": 14, "labelFont": "Liberation Serif", "labelFontSize": 58, "labelColor": "black", "labelPadding": 2, "labelFlush": false, "titleFont": "Liberation Serif", "titleFontSize": 62, "titleFontWeight": "normal", "titleColor": "black", "titlePadding": 8}},
  "y": {"field": "lo", "type": "quantitative", "scale": {"domain": [-100, 10]},
   "axis": {"values": [-100,-50,0], "title": "Return\u2002r\u2081", "grid": false, "domain": false, "tickColor": "black", "tickWidth": 2, "tickSize": 14, "labelFont": "Liberation Serif", "labelFontSize": 58, "labelColor": "black", "labelPadding": 17, "labelExpr": "datum.value < 0 ? '-' + format(-datum.value, 'd') : format(datum.value, 'd')", "titleFont": "Liberation Serif", "titleFontSize": 62, "titleFontWeight": "normal", "titleColor": "black", "titlePadding": 30}},
  "y2": {"field": "hi"}}},
{"transform": [{"filter": {"field": "s", "equal": "2"}}], "mark": {"type": "area", "opacity": 0.3, "color": "#949494"}, "encoding": {"x": {"field": "ep", "type": "quantitative"}, "y": {"field": "lo", "type": "quantitative"}, "y2": {"field": "hi"}}},
{"transform": [{"filter": {"field": "s", "equal": "3"}}], "mark": {"type": "area", "opacity": 0.3, "color": "#7de3cb"}, "encoding": {"x": {"field": "ep", "type": "quantitative"}, "y": {"field": "lo", "type": "quantitative"}, "y2": {"field": "hi"}}},
{"transform": [{"filter": {"field": "s", "equal": "4"}}], "mark": {"type": "area", "opacity": 0.3, "color": "#cc78bc"}, "encoding": {"x": {"field": "ep", "type": "quantitative"}, "y": {"field": "lo", "type": "quantitative"}, "y2": {"field": "hi"}}},
{"transform": [{"filter": {"field": "s", "equal": "5"}}], "mark": {"type": "area", "opacity": 0.3, "color": "#56b4e9"}, "encoding": {"x": {"field": "ep", "type": "quantitative"}, "y": {"field": "lo", "type": "quantitative"}, "y2": {"field": "hi"}}},
{"transform": [{"filter": {"field": "s", "equal": "6"}}], "mark": {"type": "area", "opacity": 0.3, "color": "#029e73"}, "encoding": {"x": {"field": "ep", "type": "quantitative"}, "y": {"field": "lo", "type": "quantitative"}, "y2": {"field": "hi"}}},
{"transform": [{"filter": {"field": "s", "equal": "7"}}], "mark": {"type": "area", "opacity": 0.3, "color": "#e69f00"}, "encoding": {"x": {"field": "ep", "type": "quantitative"}, "y": {"field": "lo", "type": "quantitative"}, "y2": {"field": "hi"}}},
{"transform": [{"filter": {"field": "s", "equal": "8"}}], "mark": {"type": "area", "opacity": 0.3, "color": "#d55e00"}, "encoding": {"x": {"field": "ep", "type": "quantitative"}, "y": {"field": "lo", "type": "quantitative"}, "y2": {"field": "hi"}}},
{"transform": [{"filter": {"field": "s", "equal": "1"}}], "mark": {"type": "line", "strokeWidth": 3, "color": "#c8643f"}, "encoding": {"x": {"field": "ep", "type": "quantitative"}, "y": {"field": "v", "type": "quantitative"}}},
{"transform": [{"filter": {"field": "s", "equal": "2"}}], "mark": {"type": "line", "strokeWidth": 3, "color": "#949494"}, "encoding": {"x": {"field": "ep", "type": "quantitative"}, "y": {"field": "v", "type": "quantitative"}}},
{"transform": [{"filter": {"field": "s", "equal": "3"}}], "mark": {"type": "line", "strokeWidth": 3, "color": "#7de3cb"}, "encoding": {"x": {"field": "ep", "type": "quantitative"}, "y": {"field": "v", "type": "quantitative"}}},
{"transform": [{"filter": {"field": "s", "equal": "4"}}], "mark": {"type": "line", "strokeWidth": 3, "color": "#cc78bc"}, "encoding": {"x": {"field": "ep", "type": "quantitative"}, "y": {"field": "v", "type": "quantitative"}}},
{"transform": [{"filter": {"field": "s", "equal": "5"}}], "mark": {"type": "line", "strokeWidth": 3, "color": "#56b4e9"}, "encoding": {"x": {"field": "ep", "type": "quantitative"}, "y": {"field": "v", "type": "quantitative"}}},
{"transform": [{"filter": {"field": "s", "equal": "6"}}], "mark": {"type": "line", "strokeWidth": 3, "color": "#029e73"}, "encoding": {"x": {"field": "ep", "type": "quantitative"}, "y": {"field": "v", "type": "quantitative"}}},
{"transform": [{"filter": {"field": "s", "equal": "7"}}], "mark": {"type": "line", "strokeWidth": 3, "color": "#e69f00"}, "encoding": {"x": {"field": "ep", "type": "quantitative"}, "y": {"field": "v", "type": "quantitative"}}},
{"transform": [{"filter": {"field": "s", "equal": "8"}}], "mark": {"type": "line", "strokeWidth": 3, "color": "#d55e00"}, "encoding": {"x": {"field": "ep", "type": "quantitative"}, "y": {"field": "v", "type": "quantitative"}}},
{"data": {"values": [{"ep":165,"v":-65},{"ep":220,"v":-62},{"ep":275,"v":-63.5},{"ep":330,"v":-61.6},{"ep":384,"v":-50.7},{"ep":440,"v":-53.6},{"ep":494,"v":-59}]},
 "mark": {"type": "point", "shape": "M0,-1L0.2245,-0.309L0.951,-0.309L0.363,0.118L0.588,0.809L0,0.382L-0.588,0.809L-0.363,0.118L-0.951,-0.309L-0.2245,-0.309Z", "size": 550, "filled": true, "fill": "#c8643f", "stroke": "black", "strokeWidth": 3.5, "opacity": 1}, "encoding": {"x": {"field": "ep", "type": "quantitative"}, "y": {"field": "v", "type": "quantitative"}}},
{"data": {"values": [{"ep":0,"v":-93},{"ep":52,"v":-52.6},{"ep":104,"v":-49.8},{"ep":156,"v":-26},{"ep":208,"v":-19.8},{"ep":260,"v":-23},{"ep":312,"v":-17},{"ep":364,"v":-20.7},{"ep":416,"v":-14.5},{"ep":468,"v":-12}]},
 "mark": {"type": "point", "shape": "triangle-up", "size": 1000, "filled": true, "fill": "#949494", "stroke": "black", "strokeWidth": 3.2, "opacity": 1}, "encoding": {"x": {"field": "ep", "type": "quantitative"}, "y": {"field": "v", "type": "quantitative"}}},
{"data": {"values": [{"ep":56,"v":-13},{"ep":113,"v":-10.7},{"ep":171,"v":-8.8},{"ep":228,"v":-23},{"ep":285,"v":-27.4},{"ep":341,"v":-40},{"ep":398,"v":-40},{"ep":455,"v":-43.4}]},
 "mark": {"type": "point", "shape": "triangle-right", "size": 1000, "filled": true, "fill": "#7de3cb", "stroke": "black", "strokeWidth": 3.2, "opacity": 1}, "encoding": {"x": {"field": "ep", "type": "quantitative"}, "y": {"field": "v", "type": "quantitative"}}},
{"data": {"values": [{"ep":56,"v":-31.2},{"ep":112,"v":-31.6},{"ep":169,"v":-30.5},{"ep":224,"v":-31},{"ep":280,"v":-35},{"ep":336,"v":-37},{"ep":392,"v":-34},{"ep":447,"v":-31.5}]},
 "mark": {"type": "point", "shape": "triangle-left", "size": 1000, "filled": true, "fill": "#cc78bc", "stroke": "black", "strokeWidth": 3.2, "opacity": 1}, "encoding": {"x": {"field": "ep", "type": "quantitative"}, "y": {"field": "v", "type": "quantitative"}}},
{"data": {"values": [{"ep":50,"v":-67.5},{"ep":101,"v":-42},{"ep":152,"v":-35},{"ep":204,"v":-32},{"ep":256,"v":-34},{"ep":306,"v":-34},{"ep":357,"v":-31.5},{"ep":407,"v":-34.5},{"ep":459,"v":-28}]},
 "mark": {"type": "point", "shape": "triangle-down", "size": 1000, "filled": true, "fill": "#56b4e9", "stroke": "black", "strokeWidth": 3.2, "opacity": 1}, "encoding": {"x": {"field": "ep", "type": "quantitative"}, "y": {"field": "v", "type": "quantitative"}}},
{"data": {"values": [{"ep":53,"v":-59.5},{"ep":106,"v":-38.5},{"ep":159,"v":-35},{"ep":212,"v":-37},{"ep":265,"v":-38.3},{"ep":318,"v":-36.8},{"ep":371,"v":-35.5},{"ep":424,"v":-34.7},{"ep":477,"v":-40}]},
 "mark": {"type": "point", "shape": "circle", "size": 180, "filled": true, "fill": "#029e73", "stroke": "black", "strokeWidth": 3.5, "opacity": 1}, "encoding": {"x": {"field": "ep", "type": "quantitative"}, "y": {"field": "v", "type": "quantitative"}}},
{"data": {"values": [{"ep":53,"v":-65},{"ep":108,"v":-17.3},{"ep":162,"v":-15},{"ep":216,"v":-15},{"ep":270,"v":-14},{"ep":324,"v":-15},{"ep":378,"v":-13.4},{"ep":432,"v":-17.3},{"ep":486,"v":-14.6}]},
 "mark": {"type": "point", "shape": "cross", "size": 850, "filled": true, "fill": "#e69f00", "stroke": "black", "strokeWidth": 3.2, "opacity": 1}, "encoding": {"x": {"field": "ep", "type": "quantitative"}, "y": {"field": "v", "type": "quantitative"}}},
{"data": {"values": [{"ep":0,"v":-2.4},{"ep":50,"v":-2.3},{"ep":100,"v":-2.5},{"ep":150,"v":-2.5},{"ep":200,"v":-2.4},{"ep":250,"v":-2.3},{"ep":300,"v":-2.5},{"ep":350,"v":-2.5},{"ep":400,"v":-2.3},{"ep":450,"v":-2.4}]},
 "mark": {"type": "point", "shape": "square", "size": 850, "filled": true, "fill": "#d55e00", "stroke": "black", "strokeWidth": 3.2, "opacity": 1}, "encoding": {"x": {"field": "ep", "type": "quantitative"}, "y": {"field": "v", "type": "quantitative"}}}
]
}
